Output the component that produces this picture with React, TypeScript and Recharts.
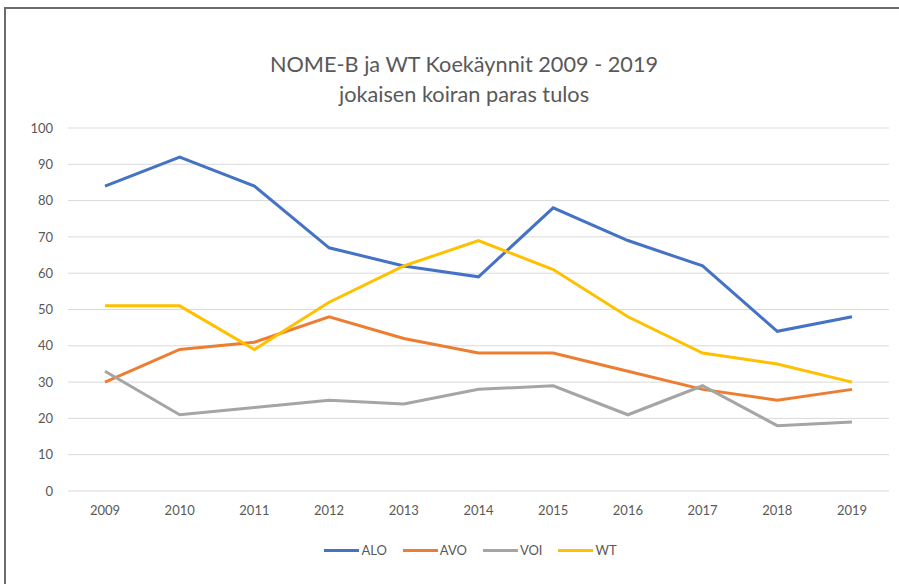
import { LineChart, Line, XAxis, YAxis, CartesianGrid, Legend } from 'recharts';

const years = ['2009', '2010', '2011', '2012', '2013', '2014', '2015', '2016', '2017', '2018', '2019'];
const alo = [84, 92, 84, 67, 62, 59, 78, 69, 62, 44, 48];
const avo = [30, 39, 41, 48, 42, 38, 38, 33, 28, 25, 28];
const voi = [33, 21, 23, 25, 24, 28, 29, 21, 29, 18, 19];
const wt = [51, 51, 39, 52, 62, 69, 61, 48, 38, 35, 30];
const yTicks = [0, 10, 20, 30, 40, 50, 60, 70, 80, 90, 100];

const series = [
  { key: 'ALO', color: '#4472C4' },
  { key: 'AVO', color: '#ED7D31' },
  { key: 'VOI', color: '#A5A5A5' },
  { key: 'WT', color: '#FFC000' },
];

const data = years.map((year, i) => ({
  year,
  ALO: alo[i],
  AVO: avo[i],
  VOI: voi[i],
  WT: wt[i],
}));

const font = 'Lato, "Open Sans", sans-serif';
const textColor = '#595959';

function LegendContent() {
  return (
    <div style={{ display: 'flex', justifyContent: 'center', paddingLeft: 52, fontFamily: font, fontSize: 13, color: textColor }}>
      {series.map((s, i) => (
        <div key={s.key} style={{ display: 'flex', alignItems: 'center', marginRight: i < series.length - 1 ? 16 : 0 }}>
          <div style={{ width: 35, height: 3, background: s.color, marginRight: 2 }} />
          <span>{s.key}</span>
        </div>
      ))}
    </div>
  );
}

export default function App() {
  return (
    <div style={{ position: 'absolute', left: 0, top: 0, width: 899, height: 584, background: '#fff', overflow: 'hidden' }}>
      <div style={{ position: 'absolute', left: 4, top: 7, width: 900, height: 600, borderLeft: '2px solid #6b6b6b', borderTop: '2px solid #6b6b6b' }} />
      <div style={{ position: 'absolute', left: 0, top: 49, width: 928, textAlign: 'center', fontFamily: font, fontSize: 21.7, lineHeight: '30px', color: textColor }}>
        NOME-B ja WT Koekäynnit 2009 - 2019<br />jokaisen koiran paras tulos
      </div>
      <div style={{ position: 'absolute', left: 0, top: 0 }}>
        <LineChart width={899} height={584} data={data} margin={{ top: 128, right: 10, bottom: 47, left: 0 }}>
          <CartesianGrid vertical={false} stroke="#D9D9D9" strokeWidth={1} />
          <XAxis
            dataKey="year"
            axisLine={false}
            tickLine={false}
            padding={{ left: 37, right: 37 }}
            tick={{ fill: textColor, fontSize: 13, fontFamily: font }}
            tickMargin={9}
          />
          <YAxis
            width={68}
            domain={[0, 100]}
            ticks={yTicks}
            axisLine={false}
            tickLine={false}
            tick={{ fill: textColor, fontSize: 13, fontFamily: font }}
            tickMargin={9}
          />
          {series.map(s => (
            <Line
              key={s.key}
              type="linear"
              dataKey={s.key}
              stroke={s.color}
              strokeWidth={3}
              dot={false}
              isAnimationActive={false}
            />
          ))}
          <Legend content={<LegendContent />} verticalAlign="bottom" wrapperStyle={{ bottom: 26 }} />
        </LineChart>
      </div>
    </div>
  );
}
